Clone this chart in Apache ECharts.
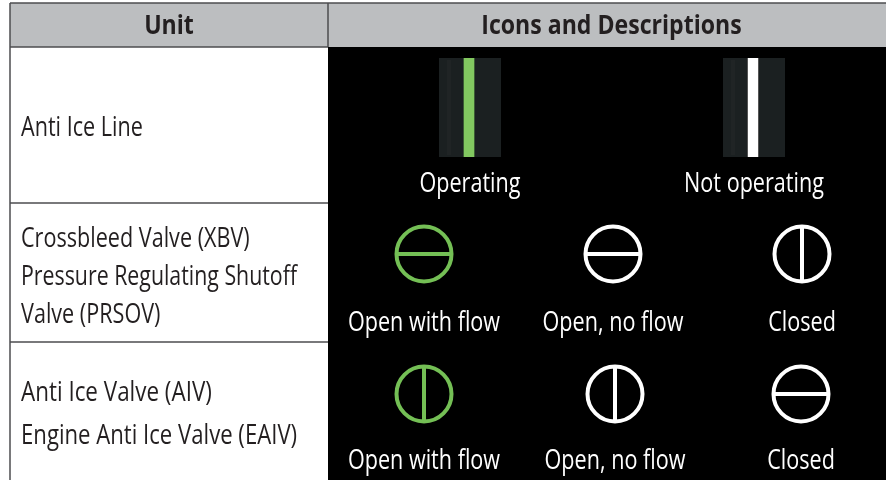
<!DOCTYPE html>
<html>
<head>
<meta charset="utf-8">
<style>
  html, body { margin: 0; padding: 0; background: #fff; }
  #main { width: 886px; height: 480px; }
</style>
<script src="https://cdn.jsdelivr.net/npm/echarts@6/dist/echarts.min.js"></script>
</head>
<body>
<div id="main"></div>
<script>
// table content
const headers = ['Unit', 'Icons and Descriptions'];
const unitRows = [
  ['Anti Ice Line'],
  ['Crossbleed Valve (XBV)', 'Pressure Regulating Shutoff', 'Valve (PRSOV)'],
  ['Anti Ice Valve (AIV)', 'Engine Anti Ice Valve (EAIV)']
];
const lineLabels = ['Operating', 'Not operating'];
const valveLabels = ['Open with flow', 'Open, no flow', 'Closed'];
// bar direction of each valve icon, row by row
const valveBars = [
  ['h', 'h', 'v'],
  ['v', 'v', 'h']
];

// layout
const tableLeft = 10, split = 328, tableRight = 886, tableTop = 3, headBottom = 47, tableBottom = 480;
const rowLines = [203, 342];
const unitY = [[128], [239, 277, 315], [393, 436]];
// the original face is a bit narrower than Open Sans, not evenly per line
const unitScale = [[0.8], [0.8, 0.79, 0.8], [0.83, 0.82]];
const lineIconX = [439, 723];
const lineLabelX = [470, 754];
const valveX = [[424, 613, 802], [424, 615, 801]];
const valveY = [254, 394];
const valveLabelY = [323, 461];

const FONT = '"Open Sans", "Noto Sans", sans-serif';
const GREEN = '#74bf55';
const INK = '#231f20';
const RULE = '#4d4d4f';

const g = [];

const addText = (str, x, y, o) => g.push({
  type: 'text', x, y, scaleX: o.sx || (o.bold ? 0.855 : 0.8), z: 10,
  style: {
    text: str, fill: o.fill || INK, font: (o.bold ? 'bold ' : '') + '27px ' + FONT,
    textAlign: o.align || 'left', textVerticalAlign: 'middle'
  }
});
const addRect = (x, y, width, height, fill, z) => g.push({
  type: 'rect', z: z || 1, shape: { x, y, width, height }, style: { fill }
});
const addLine = (x1, y1, x2, y2, stroke, lineWidth, z) => g.push({
  type: 'line', z: z || 5, shape: { x1, y1, x2, y2 }, style: { stroke, lineWidth }
});

// cells
addRect(tableLeft, tableTop, tableRight - tableLeft, headBottom - tableTop, '#bcbec0');
addRect(split, headBottom, tableRight - split, tableBottom - headBottom, '#000');

// rules
addLine(tableLeft, tableTop, tableRight, tableTop, RULE, 1.5);
addLine(tableLeft, headBottom, split, headBottom, RULE, 1.5);
addLine(tableLeft, tableTop, tableLeft, tableBottom, RULE, 1.5);
addLine(split, tableTop, split, headBottom, RULE, 1.5);
rowLines.forEach(y => addLine(tableLeft, y, split, y, RULE, 1.5));

// header
addText(headers[0], (tableLeft + split) / 2, 26, { bold: true, align: 'center' });
addText(headers[1], 611.5, 26, { bold: true, align: 'center' });

// left column
unitRows.forEach((lines, r) => lines.forEach((str, i) => addText(str, 21, unitY[r][i], { sx: unitScale[r][i] })));

// anti ice line icons
lineIconX.forEach((x, i) => {
  addRect(x, 58, 62, 99, '#1b2021', 2);
  addRect(x + 8, 60, 4, 95, '#202425', 3);
  addRect(x + 24, 58, 12, 99, i === 0 ? '#3c5c34' : '#555', 3);
  addRect(x + 25, 58, 10, 99, i === 0 ? '#82c860' : '#fff', 4);
  addText(lineLabels[i], lineLabelX[i], 184, { fill: '#fff', align: 'center' });
});

// valve icons
valveBars.forEach((row, r) => row.forEach((dir, c) => {
  const col = c === 0 ? GREEN : '#fff';
  const cx = valveX[r][c], cy = valveY[r], rad = 27.5;
  g.push({
    type: 'circle', z: 5, shape: { cx, cy, r: rad },
    style: { fill: 'none', stroke: col, lineWidth: 4 }
  });
  if (dir === 'h') addLine(cx - rad, cy, cx + rad, cy, col, 4);
  else addLine(cx, cy - rad, cx, cy + rad, col, 4);
  addText(valveLabels[c], cx, valveLabelY[r], { fill: '#fff', align: 'center' });
}));

const chart = echarts.init(document.getElementById('main'), null, { renderer: 'canvas' });
chart.setOption({ animation: false, backgroundColor: '#fff', graphic: { elements: g } });
</script>
</body>
</html>
